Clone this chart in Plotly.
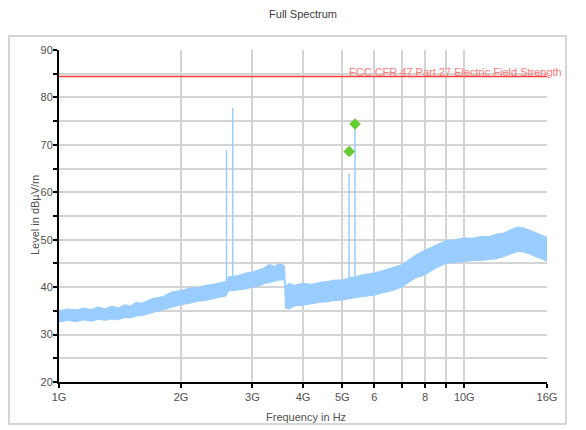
import plotly.graph_objects as go

# ---- data ----
freq_ghz = [1.00, 1.05, 1.10, 1.15, 1.20, 1.25, 1.30, 1.35, 1.40, 1.45, 1.50, 1.55, 1.60, 1.70, 1.80,
            1.90, 2.00, 2.10, 2.20, 2.30, 2.40, 2.50, 2.58, 2.62, 2.75, 2.90, 3.00, 3.10, 3.20, 3.30,
            3.40, 3.50, 3.60, 3.62, 3.70, 3.80, 4.00, 4.20, 4.40, 4.60, 4.80, 5.00, 5.20, 5.40, 5.60,
            5.80, 6.00, 6.30, 6.60, 7.00, 7.30, 7.60, 8.00, 8.50, 9.00, 9.50, 10.0, 10.5, 11.0, 11.5,
            12.0, 12.5, 13.0, 13.5, 14.0, 14.5, 15.0, 15.5, 16.0]
level_low = [32.6, 33.0, 32.7, 33.1, 32.8, 33.2, 33.0, 33.3, 33.1, 33.6, 33.5, 33.9, 34.0, 34.6, 35.2,
             35.8, 36.3, 36.6, 37.0, 37.2, 37.6, 37.9, 38.1, 39.2, 39.4, 39.6, 40.0, 40.2, 40.7, 41.0,
             41.2, 41.5, 41.5, 35.6, 35.4, 36.0, 36.2, 36.5, 36.8, 36.9, 37.2, 37.3, 37.6, 37.8, 38.0,
             38.2, 38.3, 38.8, 39.2, 40.0, 41.0, 42.0, 42.6, 44.0, 45.0, 45.2, 45.4, 45.6, 45.6, 45.8,
             46.0, 46.4, 47.0, 47.5, 47.4, 47.0, 46.4, 46.0, 45.4]
level_high = [35.0, 35.4, 35.2, 35.6, 35.3, 35.8, 35.4, 36.0, 35.6, 36.3, 36.0, 36.8, 36.6, 37.6, 38.0,
              39.0, 39.3, 39.8, 39.9, 40.4, 40.6, 41.0, 41.2, 42.2, 42.4, 43.0, 43.2, 43.6, 44.0, 44.8,
              44.4, 45.0, 44.5, 40.2, 40.8, 40.4, 40.8, 40.6, 41.0, 41.2, 41.5, 41.5, 42.0, 42.2, 42.6,
              42.8, 43.0, 43.5, 44.0, 44.7, 45.8, 46.8, 47.8, 48.8, 49.8, 50.0, 50.4, 50.3, 50.7, 50.6,
              51.2, 51.4, 52.0, 52.7, 52.5, 52.0, 51.6, 51.0, 50.5]

spike_ghz = [2.59, 2.683, 5.195, 5.375]
spike_base = [40.0, 41.0, 40.0, 40.5]
spike_top = [68.9, 77.8, 64.0, 74.4]

marker_ghz = [5.20, 5.375]
marker_level = [68.6, 74.4]

limit_ghz = [1.0, 16.0]
limit_level = [84.4, 84.4]
limit_name = "FCC CFR 47 Part 27 Electric Field Strength"

x_tick_ghz = [1, 2, 3, 4, 5, 6, 7, 8, 9, 10, 16]
x_tick_text = ["1G", "2G", "3G", "4G", "5G", "6", "", "8", "", "10G", "16G"]
y_tick_vals = [20, 30, 40, 50, 60, 70, 80, 90]

# ---- figure ----
BLUE = "rgb(153,204,255)"
GRID = "rgb(212,212,212)"
G = 1e9
fig = go.Figure()

fig.add_trace(go.Scatter(x=[f * G for f in freq_ghz], y=level_low, mode="lines",
                         line=dict(color=BLUE, width=1), hoverinfo="skip"))
fig.add_trace(go.Scatter(x=[f * G for f in freq_ghz], y=level_high, mode="lines",
                         line=dict(color=BLUE, width=1), fill="tonexty", fillcolor=BLUE,
                         hoverinfo="skip"))

for f, b, t in zip(spike_ghz, spike_base, spike_top):
    fig.add_trace(go.Scatter(x=[f * G, f * G], y=[b, t], mode="lines",
                             line=dict(color=BLUE, width=1.5), hoverinfo="skip"))

fig.add_trace(go.Scatter(x=[f * G for f in limit_ghz], y=limit_level, mode="lines",
                         line=dict(color="rgb(255,60,60)", width=1.5), hoverinfo="skip"))

fig.add_trace(go.Scatter(x=[f * G for f in marker_ghz], y=marker_level, mode="markers",
                         marker=dict(symbol="diamond", size=9, color="rgb(102,204,51)"),
                         hoverinfo="skip"))

fig.add_annotation(x=9.71, y=limit_level[0], xref="x", yref="y", text=limit_name,
                   showarrow=False, xanchor="left", yanchor="bottom", yshift=-3,
                   font=dict(family="Liberation Sans, Arial", size=11, color="rgb(255,120,120)"))

# axis titles placed as annotations
fig.add_annotation(x=-0.049, y=0.503, xref="paper", yref="paper", text="Level in dBµV/m",
                   showarrow=False, textangle=-90, xanchor="center", yanchor="middle",
                   font=dict(size=11, color="rgb(80,80,80)"))
fig.add_annotation(x=0.506, y=-0.105, xref="paper", yref="paper", text="Frequency in Hz",
                   showarrow=False, xanchor="center", yanchor="middle",
                   font=dict(size=11, color="rgb(80,80,80)"))

# outer frame
fig.add_shape(type="rect", xref="paper", yref="paper", x0=-0.1025, x1=1.0389, y0=-0.1265, y1=1.0422,
              line=dict(color="rgb(200,200,200)", width=1.5), layer="below")

# page body has an 8px margin: figure is shrunk so the plot lands at the reference position
fig.update_layout(
    width=578, height=422,
    margin=dict(l=51, r=39, t=42, b=48, autoexpand=False),
    paper_bgcolor="white", plot_bgcolor="white",
    showlegend=False,
    font=dict(family="Liberation Sans, Arial", size=11, color="rgb(80,80,80)"),
    title=dict(text="Full Spectrum", x=0.5, xref="paper", xanchor="center", y=1, yref="container",
               yanchor="top", pad=dict(t=2),
               font=dict(size=11, color="rgb(60,60,60)")),
)
fig.update_xaxes(type="log", range=[9, 10.2041], tickvals=[v * G for v in x_tick_ghz],
                 ticktext=x_tick_text, showgrid=True, gridcolor=GRID, gridwidth=2,
                 showline=True, linecolor="black", linewidth=2, ticks="outside", ticklen=4,
                 tickcolor="black", tickwidth=2, zeroline=False, automargin=False)
fig.update_yaxes(range=[20, 90], tickvals=y_tick_vals, showgrid=True, gridcolor=GRID,
                 gridwidth=2, showline=True, linecolor="black", linewidth=2, ticks="outside",
                 ticklen=4, tickcolor="black", tickwidth=2, zeroline=False, automargin=False,
                 ticklabelstandoff=-2,
                 minor=dict(tickvals=[25, 35, 45, 55, 65, 75, 85], showgrid=True,
                            gridcolor=GRID, gridwidth=2, ticks="outside",
                            ticklen=4, tickcolor="black", tickwidth=2))

fig.write_html("out.html")
